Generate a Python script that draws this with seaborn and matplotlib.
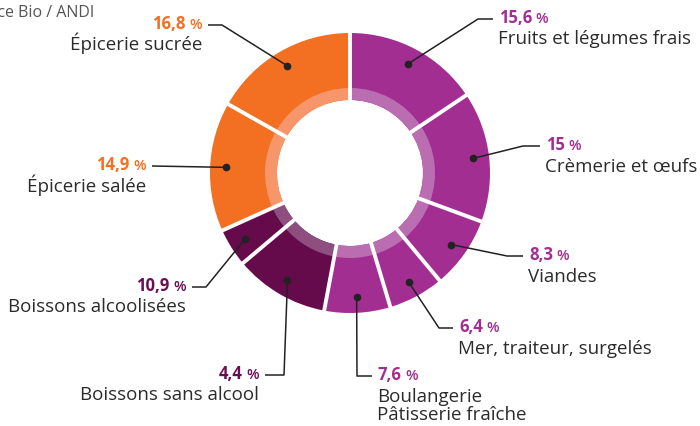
import numpy as np
import matplotlib
matplotlib.use("Agg")
import matplotlib.pyplot as plt
import seaborn as sns

# data, in wedge order (clockwise from the top)
categories = ["Fruits et légumes frais", "Crèmerie et œufs", "Viandes",
              "Mer, traiteur, surgelés", "Boulangerie\nPâtisserie fraîche",
              "Boissons alcoolisées", "Boissons sans alcool",
              "Épicerie salée", "Épicerie sucrée"]
values = [15.6, 15, 8.3, 6.4, 7.6, 10.9, 4.4, 14.9, 16.8]
pct_labels = ["15,6", "15", "8,3", "6,4", "7,6", "10,9", "4,4", "14,9", "16,8"]
groups = ["frais", "frais", "frais", "frais", "frais", "boissons", "boissons", "epicerie", "epicerie"]
# the leader of each label goes to this wedge (the two drinks are crossed in the source)
leader_to = [0, 1, 2, 3, 4, 6, 5, 7, 8]

dark = {"frais": "#A22E92", "boissons": "#650A4B", "epicerie": "#F36F21"}
light = {"frais": "#BA6DB1", "boissons": "#8F4E80", "epicerie": "#F6966A"}
txt_col = {"frais": "#A22E92", "boissons": "#6A0E52", "epicerie": "#F36F21"}

# layout (pixels from top-left): elbow of leader, end of leader, text x, align
elbows = [(478, 19), (523, 146), (507, 256), (439, 328), (357, 376),
          (206, 287), (284, 375), None, (222, 25)]
ends = [(493, 19), (540, 146), (523, 256), (453, 328), (372, 376),
        (192, 287), (265, 375), (152, 166), (208, 25)]
text_x = [499, 546, 529, 459, 378, 186, 259, 146, 202]
aligns = ["left", "left", "left", "left", "left", "right", "right", "right", "right"]

W, H = 700, 426
sns.set_theme(style="white")
plt.rcParams["font.family"] = ["Open Sans", "DejaVu Sans"]

fig = plt.figure(figsize=(W / 100, H / 100), dpi=100)
ax = fig.add_axes([0, 0, 1, 1])
ax.set_xlim(0, W)
ax.set_ylim(0, H)
ax.set_aspect("equal")
ax.axis("off")

cx, cy = 350, H - 173
R_out, R_band, R_hole = 140, 85, 73

ax.pie(values, radius=R_out, center=(cx, cy), startangle=90, counterclock=False,
       colors=[dark[g] for g in groups],
       wedgeprops=dict(width=R_out - R_hole, edgecolor="none", linewidth=0))
ax.pie(values, radius=R_band, center=(cx, cy), startangle=90, counterclock=False,
       colors=[light[g] for g in groups],
       wedgeprops=dict(width=R_band - R_hole, edgecolor="none", linewidth=0))
ax.set_xlim(0, W)
ax.set_ylim(0, H)

cum = np.cumsum([0] + values)
total = cum[-1]
# white separators between wedges
for c in cum[:-1]:
    a = np.deg2rad(90 - 360 * c / total)
    ax.plot([cx + (R_hole - 1) * np.cos(a), cx + (R_out + 1) * np.cos(a)],
            [cy + (R_hole - 1) * np.sin(a), cy + (R_out + 1) * np.sin(a)],
            color="white", lw=2.8, solid_capstyle="butt")

mids = [90 - 360 * (cum[i] + values[i] / 2) / total for i in range(len(values))]

fig.canvas.draw()
renderer = fig.canvas.get_renderer()
inv = ax.transData.inverted()


def text_width(t):
    bb = t.get_window_extent(renderer)
    p0 = inv.transform((bb.x0, bb.y0))
    p1 = inv.transform((bb.x1, bb.y1))
    return p1[0] - p0[0]


r_dot = 124
for i, cat in enumerate(categories):
    a = np.deg2rad(mids[leader_to[i]])
    dx, dy = cx + r_dot * np.cos(a), cy + r_dot * np.sin(a)
    ex, ey = ends[i]
    if elbows[i] is None:
        pts = [(dx, dy), (ex, H - ey)]
    else:
        bx, by = elbows[i]
        pts = [(dx, dy), (bx, H - by), (ex, H - ey)]
    xs, ys = zip(*pts)
    ax.plot(xs, ys, color="#222222", lw=1.1, solid_capstyle="butt")
    ax.plot(dx, dy, "o", color="#222222", ms=4.5)
    ty = H - ey
    g = groups[i]
    num_kw = dict(va="baseline", fontsize=12, fontweight="bold", color=txt_col[g])
    pc_kw = dict(va="baseline", fontsize=10.5, fontweight="semibold", color=txt_col[g])
    base = ty - 4
    if aligns[i] == "left":
        t = ax.text(text_x[i], base, pct_labels[i], ha="left", **num_kw)
        ax.text(text_x[i] + text_width(t) + 3.5, base, "%", ha="left", **pc_kw)
    else:
        t = ax.text(text_x[i], base, "%", ha="right", **pc_kw)
        ax.text(text_x[i] - text_width(t) - 3.5, base, pct_labels[i], ha="right", **num_kw)
    for k, line in enumerate(cat.split("\n")):
        ax.text(text_x[i] - (1 if aligns[i] == "left" else 0), ty - 25.5 - 19 * k, line,
                ha=aligns[i], va="baseline", fontsize=13.5, color="#2B2B2B")

ax.text(94, H - 13, "Source : Agence Bio / ANDI", ha="right", va="center",
        fontsize=11.5, color="#555555")

fig.savefig("out.png", dpi=100)
